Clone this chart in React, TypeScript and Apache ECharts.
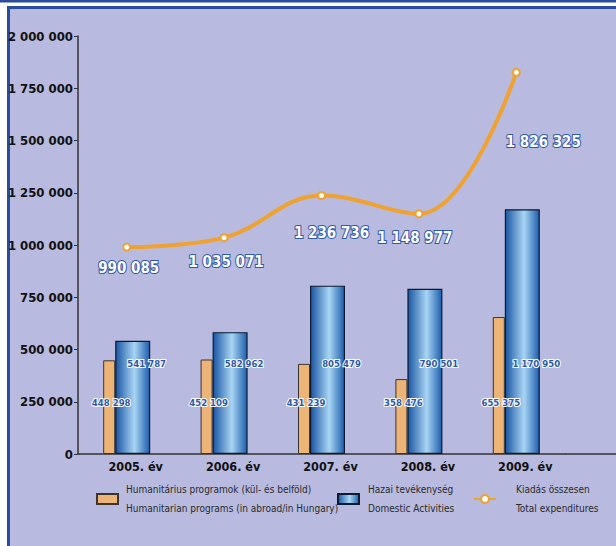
import React, { useEffect, useRef } from "react";
import * as echarts from "echarts";

const categories = ["2005. év", "2006. év", "2007. év", "2008. év", "2009. év"];
const humanitarian = [448298, 452109, 431239, 358476, 655375];
const domestic = [541787, 582962, 805479, 790501, 1170950];
const total = [990085, 1035071, 1236736, 1148977, 1826325];
const yMin = 0;
const yMax = 2000000;
const yInterval = 250000;

const nameH = "Humanitárius programok (kül- és belföld)\nHumanitarian programs (in abroad/in Hungary)";
const nameD = "Hazai tevékenység\nDomestic Activities";
const nameT = "Kiadás összesen\nTotal expenditures";

// label offsets (style only)
const totalLabelOffsets = [
  [2, 21],
  [2, 24],
  [10, 37],
  [-4, 24],
  [27, 70],
];

const FONT = "'Liberation Sans Narrow', 'Arial Narrow', 'Nimbus Sans Narrow', 'DejaVu Sans Condensed', sans-serif";
const ORANGE = "#F0A22E";
const LABEL_BLUE = "#2D58A6";
const FRAME_BLUE = "#2A4C9E";
const PANEL = "#B8BADF";

const fmt = (v: number) => String(v).replace(/\B(?=(\d{3})+(?!\d))/g, " ");

export default function App() {
  const ref = useRef<HTMLDivElement>(null);
  useEffect(() => {
    if (!ref.current) return;
    const chart = echarts.init(ref.current, null, { renderer: "svg" });
    const blueGrad = new echarts.graphic.LinearGradient(0, 0, 1, 0, [
      { offset: 0, color: "#1A55A3" },
      { offset: 0.55, color: "#A8D5F4" },
      { offset: 1, color: "#1E5EAC" },
    ]);
    const legendText = { fontFamily: FONT, fontSize: 10, lineHeight: 19, color: "#2a2a2a" };
    chart.setOption({
      animation: false,
      backgroundColor: "#ffffff",
      textStyle: { fontFamily: FONT },
      graphic: [
        { type: "rect", z: -10, shape: { x: 0, y: 0, width: 616, height: 2.5 }, style: { fill: FRAME_BLUE } },
        {
          type: "rect",
          z: -10,
          shape: { x: 8.5, y: 7.5, width: 640, height: 560 },
          style: { fill: PANEL, stroke: FRAME_BLUE, lineWidth: 3 },
        },
        {
          type: "line",
          z: 5,
          shape: { x1: 565, y1: 454, x2: 616, y2: 454 },
          style: { stroke: "#333", lineWidth: 1.5 },
        },
      ],
      grid: { left: 78, top: 36, width: 487, height: 418 },
      legend: [
        {
          data: [{ name: nameH, icon: "rect" }],
          left: 96,
          top: 480,
          padding: 0,
          itemWidth: 21,
          itemHeight: 10,
          textStyle: { ...legendText, padding: [0, 0, 0, 3] },
        },
        {
          data: [{ name: nameD, icon: "rect" }],
          left: 337,
          top: 480,
          padding: 0,
          itemWidth: 21,
          itemHeight: 10,
          textStyle: { ...legendText, padding: [0, 0, 0, 4] },
        },
        {
          data: [nameT],
          left: 473,
          top: 480,
          padding: 0,
          itemWidth: 22,
          itemHeight: 10,
          textStyle: { ...legendText, padding: [0, 0, 0, 15] },
        },
      ],
      xAxis: {
        type: "category",
        data: categories,
        axisLine: { lineStyle: { color: "#333", width: 1.5 } },
        axisTick: { show: false },
        axisLabel: {
          color: "#111",
          fontFamily: FONT,
          fontWeight: "bold",
          fontSize: 12.5,
          margin: 6,
          padding: [0, 0, 0, 18],
        },
      },
      yAxis: {
        type: "value",
        min: yMin,
        max: yMax,
        interval: yInterval,
        splitLine: { show: false },
        axisLine: { show: true, lineStyle: { color: "#333", width: 1.5 } },
        axisTick: { show: true, length: 4, lineStyle: { color: "#333" } },
        axisLabel: {
          color: "#111",
          fontFamily: FONT,
          fontWeight: "bold",
          fontSize: 13,
          margin: 5,
          formatter: (v: number) => fmt(v),
        },
      },
      series: [
        {
          name: nameH,
          type: "bar",
          data: humanitarian,
          barWidth: 12,
          barGap: "0%",
          itemStyle: { color: "#EDB477", borderColor: "#3a3530", borderWidth: 1 },
          label: {
            show: true,
            position: "insideBottom",
            distance: 47,
            offset: [2, 0],
            formatter: (p: any) => fmt(p.value),
            color: LABEL_BLUE,
            fontFamily: FONT,
            fontWeight: "bold",
            fontSize: 9.5,
            textBorderColor: "#fff",
            textBorderWidth: 2,
          },
          z: 2,
        },
        {
          name: nameD,
          type: "bar",
          data: domestic,
          barWidth: 35,
          itemStyle: { color: blueGrad, borderColor: "#0d1a30", borderWidth: 1.2 },
          label: {
            show: true,
            position: "insideBottom",
            distance: 86,
            offset: [14, 0],
            formatter: (p: any) => fmt(p.value),
            color: LABEL_BLUE,
            fontFamily: FONT,
            fontWeight: "bold",
            fontSize: 9.5,
            textBorderColor: "#fff",
            textBorderWidth: 2,
          },
          z: 2,
        },
        {
          name: nameT,
          type: "line",
          smooth: 0.4,
          data: total.map((v, i) => ({
            value: v,
            label: { offset: totalLabelOffsets[i] },
          })),
          symbol: "circle",
          symbolSize: 7,
          itemStyle: { color: "#fff", borderColor: ORANGE, borderWidth: 2 },
          lineStyle: { color: ORANGE, width: 4 },
          label: {
            show: true,
            position: "inside",
            formatter: (p: any) => fmt(p.value),
            color: "#fff",
            fontFamily: FONT,
            fontWeight: "bold",
            fontSize: 15,
            textBorderColor: LABEL_BLUE,
            textBorderWidth: 2,
          },
          z: 4,
        },
      ],
    });
    return () => chart.dispose();
  }, []);
  return <div ref={ref} style={{ position: "absolute", left: 0, top: 0, width: 616, height: 546 }} />;
}
